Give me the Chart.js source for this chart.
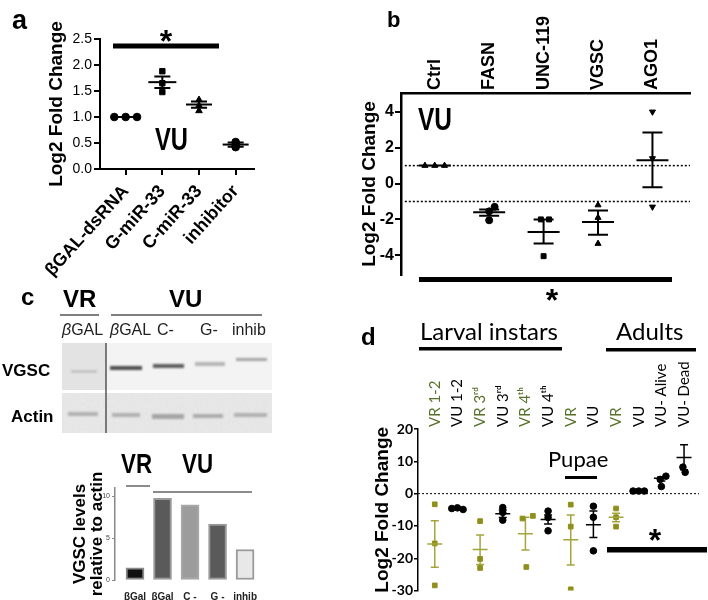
<!DOCTYPE html>
<html>
<head>
<meta charset="utf-8">
<script src="https://cdn.jsdelivr.net/npm/chart.js@4.4.1/dist/chart.umd.min.js"></script>
<style>
  body { margin: 0; background: #fff; }
  #page { position: relative; width: 708px; height: 600px; overflow: hidden; background: #fff; }
  canvas, svg { position: absolute; }
  svg text { font-family: "Liberation Sans", Arial, sans-serif; }
</style>
</head>
<body>
<div id="page">
  <canvas id="chartA" width="270" height="300" style="left:0;top:0"></canvas>
  <canvas id="chartB" width="378" height="300" style="left:330px;top:0"></canvas>
  <canvas id="chartC" width="270" height="160" style="left:60px;top:440px"></canvas>
  <canvas id="chartD" width="368" height="310" style="left:340px;top:290px"></canvas>
  <svg id="overlay" width="708" height="600" style="left:0;top:0">
    <defs>
      <filter id="soft" x="-20%" y="-200%" width="140%" height="500%"><feGaussianBlur stdDeviation="1.2"/></filter>
      <filter id="grain" x="0" y="0" width="1" height="1"><feTurbulence type="fractalNoise" baseFrequency="0.35" numOctaves="2" seed="4"/><feColorMatrix type="saturate" values="0"/><feComponentTransfer><feFuncA type="linear" slope="0.08"/></feComponentTransfer></filter>
    </defs>

    <!-- panel a -->
    <text x="12" y="29" font-size="27" font-weight="bold">a</text>
    <rect x="113" y="43.5" width="106" height="5" fill="#000"/>
    <text x="166" y="52" font-size="32" font-weight="bold" text-anchor="middle">*</text>
    <text x="155" y="150" font-size="31" font-weight="bold" textLength="33" lengthAdjust="spacingAndGlyphs">VU</text>

    <!-- panel b -->
    <text x="387" y="27" font-size="22" font-weight="bold">b</text>
    <text x="418" y="130" font-size="32" font-weight="bold" textLength="34" lengthAdjust="spacingAndGlyphs">VU</text>
    <rect x="419" y="277" width="253" height="5" fill="#000"/>
    <text x="552" y="311" font-size="32" font-weight="bold" text-anchor="middle">*</text>

    <!-- panel c : blot -->
    <text x="21" y="305" font-size="24" font-weight="bold">c</text>
    <text x="63" y="307" font-size="24" font-weight="bold">VR</text>
    <text x="169" y="307" font-size="24" font-weight="bold">VU</text>
    <line x1="60" y1="315" x2="99" y2="315" stroke="#555" stroke-width="1.5"/>
    <line x1="111" y1="315" x2="262" y2="315" stroke="#555" stroke-width="1.5"/>
    <g font-size="16" fill="#222">
      <text x="62" y="335"><tspan font-style="italic">β</tspan>GAL</text>
      <text x="110" y="335"><tspan font-style="italic">β</tspan>GAL</text>
      <text x="157" y="335">C-</text>
      <text x="200" y="335">G-</text>
      <text x="232" y="335">inhib</text>
    </g>
    <text x="2" y="376" font-size="17" font-weight="bold">VGSC</text>
    <text x="11" y="422" font-size="17" font-weight="bold">Actin</text>
    <rect x="62" y="343" width="44" height="47" fill="#e3e3e3"/>
    <rect x="106" y="343" width="166" height="47" fill="#f3f3f3"/>
    <rect x="62" y="393" width="210" height="40" fill="#e8e8e8"/>
    <rect x="62" y="393" width="210" height="40" filter="url(#grain)"/>
    <g filter="url(#soft)">
      <rect x="71" y="370" width="26" height="3" fill="#c4c4c4"/>
      <rect x="110" y="366" width="32" height="4" fill="#505050"/>
      <rect x="153" y="364" width="31" height="4" fill="#5c5c5c"/>
      <rect x="195" y="362" width="30" height="4" fill="#b6b6b6"/>
      <rect x="236" y="358" width="31" height="3" fill="#a4a4a4"/>
      <rect x="68" y="412" width="30" height="4" fill="#b0b0b0"/>
      <rect x="112" y="413" width="28" height="4" fill="#b0b0b0"/>
      <rect x="152" y="414" width="32" height="5" fill="#a4a4a4"/>
      <rect x="193" y="414" width="30" height="4" fill="#acacac"/>
      <rect x="234" y="413" width="33" height="4" fill="#b0b0b0"/>
    </g>
    <line x1="106" y1="343" x2="106" y2="433" stroke="#555" stroke-width="1.5"/>

    <!-- panel c : bar headers -->
    <text x="121" y="473" font-size="28" font-weight="bold" textLength="31" lengthAdjust="spacingAndGlyphs">VR</text>
    <text x="182" y="473" font-size="28" font-weight="bold" textLength="31" lengthAdjust="spacingAndGlyphs">VU</text>
    <line x1="126" y1="486" x2="150" y2="486" stroke="#666" stroke-width="1.5"/>
    <line x1="153" y1="492" x2="252" y2="492" stroke="#666" stroke-width="1.5"/>

    <!-- panel d -->
    <text x="361" y="345" font-size="24" font-weight="bold">d</text>
    <text x="420" y="340" font-size="24" style="font-family:Lato">Larval instars</text>
    <rect x="419" y="347" width="143" height="3.5" fill="#000"/>
    <text x="616" y="340" font-size="24" style="font-family:Lato">Adults</text>
    <rect x="606" y="348" width="90" height="3.5" fill="#000"/>
    <text x="548" y="467" font-size="22" style="font-family:Lato">Pupae</text>
    <rect x="565" y="476" width="32" height="3" fill="#000"/>
    <rect x="607" y="547" width="100" height="5.5" fill="#000"/>
    <text x="655" y="551" font-size="32" font-weight="bold" text-anchor="middle">*</text>
  </svg>
</div>
<script>
// ---- panel a : miR-33 levels ----
const aCategories = ['βGAL-dsRNA', 'G-miR-33', 'C-miR-33', 'inhibitor'];
const aPoints = [[1.0, 1.0, 1.0], [1.88, 1.65, 1.48], [1.33, 1.22, 1.12], [0.52, 0.47, 0.42]];
const aMeans = [1.0, 1.67, 1.24, 0.47];
const aErrLow = [1.0, 1.56, 1.18, 0.43];
const aErrHigh = [1.0, 1.78, 1.30, 0.51];
const aShapes = ['circle', 'rect', 'triangle', 'circle'];
const aJitter = [[-0.31, 0, 0.31], [0, 0, 0], [0, 0, 0], [0, 0, 0]];
const aTicksY = [0, 0.5, 1.0, 1.5, 2.0, 2.5];

// ---- panel b : target genes ----
const bCategories = ['Ctrl', 'FASN', 'UNC-119', 'VGSC', 'AGO1'];
const bPoints = [[1, 1, 1], [-1.3, -1.55, -2.05], [-2.0, -2.0, -4.05], [-1.2, -1.9, -3.35], [4.0, 1.4, -1.3]];
const bMeans = [1, -1.6, -2.7, -2.15, 1.3];
const bErrLow = [1, -1.8, -3.35, -2.85, -0.2];
const bErrHigh = [1, -1.45, -2.0, -1.5, 2.85];
const bShapes = ['triangle', 'circle', 'rect', 'triangle', 'triangle'];
const bRotation = [0, 0, 0, 0, 180];
const bJitter = [[-0.18, 0, 0.18], [0.1, 0, 0], [-0.05, 0.1, 0], [0, 0, 0], [0, 0, 0]];
const bRefLines = [1, -1];
const bTicksY = [-4, -2, 0, 2, 4];

// ---- panel c : densitometry ----
const cCategories = ['βGal', 'βGal', 'C -', 'G -', 'inhib'];
const cValues = [1.45, 9.75, 9.0, 6.7, 3.65];
const cFill = ['#111111', '#5a5a5a', '#9c9c9c', '#5a5a5a', '#e8e8e8'];
const cBorder = ['#8a8a8a', '#9a9a9a', '#a8a8a8', '#9a9a9a', '#9a9a9a'];
const cTicksY = [0, 5, 10];

// ---- panel d : developmental stages ----
const dCategories = ['VR 1-2', 'VU 1-2', 'VR 3ʳᵈ', 'VU 3ʳᵈ', 'VR 4ᵗʰ', 'VU 4ᵗʰ', 'VR', 'VU', 'VR', 'VU', 'VU- Alive', 'VU- Dead'];
const dGroups = ['VR', 'VU', 'VR', 'VU', 'VR', 'VU', 'VR', 'VU', 'VR', 'VU', 'VU', 'VU'];
const dPoints = [[-3.3, -15.4, -28.4], [-4.6, -4.4, -4.9], [-8.5, -20.2, -23.0], [-4.3, -5.8, -8.2],
  [-7.7, -6.9, -22.7], [-5.4, -7.4, -11.5], [-3.4, -10.2, -29.6], [-3.9, -7.3, -17.7],
  [-4.6, -7.3, -10.2], [0.8, 0.8, 0.8], [5.4, 4.4, 2.2], [8.2, 6.6]];
const dMeans = [-15.6, -4.7, -17.3, -6.2, -12.4, -8.0, -14.3, -9.6, -7.3, 0.8, 4.8, 11.2];
const dErrLow = [-22.8, -4.8, -21.9, -7.4, -17.4, -9.4, -22.1, -13.6, -8.7, 0.8, 3.9, 7.4];
const dErrHigh = [-8.4, -4.6, -12.8, -5.1, -7.3, -6.6, -6.6, -5.4, -6.1, 0.8, 5.2, 15.1];
const dJitter = [[0, 0, 0], [-0.25, 0, 0.25], [0, 0, 0], [0, 0, 0], [-0.13, 0.33, 0.04], [0, 0, 0],
  [0, 0, 0], [0, 0, 0], [0, 0, 0], [-0.25, 0, 0.25], [0.2, -0.05, 0], [-0.05, 0.05]];
const dTicksY = [20, 15, 10, 5, 0, -5, -10, -15, -20, -25, -30];

const VR_LABEL = '#56722a';
const VR_MARK = '#8f8f1c';
const VR_LINE = '#a5a53c';

Chart.defaults.font.family = '"Liberation Sans", Arial, sans-serif';
Chart.defaults.color = '#000';

// whiskers drawn through the chart's own scales
const whiskers = {
  id: 'whiskers',
  beforeDatasetsDraw(chart, args, opts) {
    const {ctx, scales} = chart;
    const x = scales.x, y = scales.y;
    ctx.save();
    ctx.lineWidth = opts.width;
    opts.lo.forEach((lo, i) => {
      const hi = opts.hi[i];
      if (lo === hi) return;
      const px = x.getPixelForValue(i);
      const yl = y.getPixelForValue(lo);
      const yh = y.getPixelForValue(hi);
      ctx.strokeStyle = Array.isArray(opts.color) ? opts.color[i] : opts.color;
      ctx.beginPath();
      ctx.moveTo(px, yl); ctx.lineTo(px, yh);
      ctx.moveTo(px - opts.cap, yl); ctx.lineTo(px + opts.cap, yl);
      ctx.moveTo(px - opts.cap, yh); ctx.lineTo(px + opts.cap, yh);
      ctx.stroke();
    });
    ctx.restore();
  }
};

function flatPoints(points, jitter) {
  const out = [];
  points.forEach((group, i) => group.forEach((v, j) => out.push({x: i + jitter[i][j], y: v})));
  return out;
}
function perPoint(points, values) {
  const out = [];
  points.forEach((group, i) => group.forEach(() => out.push(values[i])));
  return out;
}
function meanData(means) {
  return means.map((m, i) => ({x: i, y: m}));
}
function fixedTicks(values) {
  return s => { s.ticks = values.map(v => ({value: v})); };
}
function indexTicks(cats) {
  return fixedTicks(cats.map((_, i) => i));
}

const base = {
  responsive: false,
  animation: false,
  events: [],
  plugins: {legend: {display: false}, tooltip: {enabled: false}}
};

// ---------- chart a ----------
new Chart(document.getElementById('chartA'), {
  type: 'scatter',
  data: {
    datasets: [
      {data: meanData(aMeans), pointStyle: 'line', pointRadius: [12, 14, 13, 13], borderColor: '#000', borderWidth: 2},
      {data: flatPoints(aPoints, aJitter), pointStyle: perPoint(aPoints, aShapes), pointRadius: 3.8,
        backgroundColor: '#000', borderColor: '#000'}
    ]
  },
  options: {
    ...base,
    layout: {padding: {left: 45, top: 39, right: 8, bottom: 0}},
    plugins: {...base.plugins, whiskers: {lo: aErrLow, hi: aErrHigh, cap: 8, width: 2, color: '#000'}},
    scales: {
      x: {
        type: 'linear', min: -0.7, max: 3.5, bounds: 'data',
        afterBuildTicks: indexTicks(aCategories),
        afterFit: s => { s.height = 131; },
        border: {color: '#000', width: 2},
        grid: {drawOnChartArea: false, color: '#000', lineWidth: 2, tickLength: 6},
        ticks: {autoSkip: false, minRotation: 48, maxRotation: 48, padding: 6,
          font: {size: 18, weight: 'bold'}, callback: v => aCategories[v] ?? ''}
      },
      y: {
        min: 0, max: 2.5, bounds: 'data',
        afterBuildTicks: fixedTicks(aTicksY),
        afterFit: s => { s.width = 55; },
        border: {color: '#000', width: 2},
        grid: {drawOnChartArea: false, color: '#000', lineWidth: 2, tickLength: 6},
        ticks: {padding: 2, font: {size: 14}, callback: v => v.toFixed(1)},
        title: {display: true, text: 'Log2 Fold Change', font: {size: 19, weight: 'bold'}, padding: 0}
      }
    }
  },
  plugins: [whiskers]
});

// ---------- chart b ----------
new Chart(document.getElementById('chartB'), {
  type: 'scatter',
  data: {
    datasets: [
      ...bRefLines.map(v => ({type: 'line', data: [{x: -0.55, y: v}, {x: 4.69, y: v}], borderColor: '#000',
        borderWidth: 1.5, borderDash: [2, 2], pointRadius: 0})),
      {data: meanData(bMeans), pointStyle: 'line', pointRadius: 16, borderColor: '#000', borderWidth: 2},
      {data: flatPoints(bPoints, bJitter), pointStyle: perPoint(bPoints, bShapes), rotation: perPoint(bPoints, bRotation),
        pointRadius: 3.5, backgroundColor: '#000', borderColor: '#000'}
    ]
  },
  options: {
    ...base,
    layout: {padding: {left: 28, top: 0, right: 15, bottom: 25}},
    plugins: {...base.plugins, whiskers: {lo: bErrLow, hi: bErrHigh, cap: 10, width: 2, color: '#000'}},
    scales: {
      x: {
        type: 'linear', position: 'top', min: -0.62, max: 4.69, bounds: 'data',
        afterBuildTicks: indexTicks(bCategories),
        afterFit: s => { s.height = 93; },
        border: {color: '#000', width: 2.5},
        grid: {display: false, drawTicks: false},
        ticks: {autoSkip: false, minRotation: 90, maxRotation: 90, padding: 3, labelOffset: 21.6,
          font: {size: 18, weight: 'bold'}, callback: v => bCategories[v] ?? ''}
      },
      y: {
        min: -5.1, max: 5.05, bounds: 'data',
        afterBuildTicks: fixedTicks(bTicksY),
        afterFit: s => { s.width = 43; },
        border: {color: '#000', width: 2.5},
        grid: {drawOnChartArea: false, color: '#000', lineWidth: 2, tickLength: 6},
        ticks: {padding: 1, font: {size: 16, weight: 'bold'}},
        title: {display: true, text: 'Log2 Fold Change', font: {size: 19, weight: 'bold'}, padding: 0}
      }
    }
  },
  plugins: [whiskers]
});

// ---------- chart c ----------
new Chart(document.getElementById('chartC'), {
  type: 'bar',
  data: {
    datasets: [{
      data: cValues.map((v, i) => ({x: i, y: v})),
      backgroundColor: cFill, borderColor: cBorder, borderWidth: 2, barThickness: 18, borderSkipped: false
    }]
  },
  options: {
    ...base,
    layout: {padding: {left: 12, top: 48, right: 72, bottom: 0}},
    scales: {
      x: {
        type: 'linear', offset: false, min: -0.727, max: 4.47, bounds: 'data',
        afterBuildTicks: indexTicks(cCategories),
        afterFit: s => { s.height = 20; },
        border: {display: false},
        grid: {display: false, offset: false},
        ticks: {autoSkip: false, maxRotation: 0, padding: 3, color: '#222',
          font: {size: 10, weight: 'bold'}, callback: v => cCategories[v] ?? ''}
      },
      y: {
        min: 0, max: 11, bounds: 'data',
        afterBuildTicks: fixedTicks(cTicksY),
        afterFit: s => { s.width = 43; },
        border: {color: '#888', width: 1.5},
        grid: {drawOnChartArea: false, color: '#888', lineWidth: 1, tickLength: 3},
        ticks: {padding: 2, color: '#444', font: {size: 7}},
        title: {display: true, text: ['VGSC levels', 'relative to actin'], font: {size: 17, weight: 'bold', lineHeight: 1.0}, padding: 0}
      }
    }
  }
});

// ---------- chart d ----------
new Chart(document.getElementById('chartD'), {
  type: 'scatter',
  data: {
    datasets: [
      {type: 'line', data: [{x: -0.74, y: 0}, {x: 11.66, y: 0}], borderColor: '#000', borderWidth: 1,
        borderDash: [2, 2], pointRadius: 0},
      {data: meanData(dMeans), pointStyle: 'line', pointRadius: 7.5, borderWidth: 1.5,
        borderColor: dGroups.map(g => g === 'VR' ? VR_LINE : '#000')},
      {data: flatPoints(dPoints, dJitter),
        pointStyle: perPoint(dPoints, dGroups.map(g => g === 'VR' ? 'rect' : 'circle')),
        pointRadius: 3.3,
        backgroundColor: perPoint(dPoints, dGroups.map(g => g === 'VR' ? VR_MARK : '#000')),
        borderColor: perPoint(dPoints, dGroups.map(g => g === 'VR' ? VR_MARK : '#000'))}
    ]
  },
  options: {
    ...base,
    layout: {padding: {left: 31, top: 0, right: 6, bottom: 6}},
    plugins: {...base.plugins, whiskers: {lo: dErrLow, hi: dErrHigh, cap: 4, width: 1.5,
      color: dGroups.map(g => g === 'VR' ? VR_LINE : '#000')}},
    scales: {
      x: {
        type: 'linear', position: 'top', min: -0.74, max: 11.66, bounds: 'data',
        afterBuildTicks: indexTicks(dCategories),
        afterFit: s => { s.height = 139; },
        border: {display: false},
        grid: {display: false, drawTicks: false},
        ticks: {autoSkip: false, minRotation: 90, maxRotation: 90, padding: 2, labelOffset: 18,
          font: {family: 'Lato', size: 15},
          color: c => dGroups[c.tick.value] === 'VR' ? VR_LABEL : '#000',
          callback: v => dCategories[v] ?? ''}
      },
      y: {
        min: -30, max: 20, bounds: 'data',
        afterBuildTicks: fixedTicks(dTicksY),
        afterFit: s => { s.width = 47; },
        border: {color: '#000', width: 1.5},
        grid: {drawOnChartArea: false, color: '#000', lineWidth: 1.5, tickLength: 4},
        ticks: {padding: 1, font: {family: 'Lato', size: 14, weight: 'bold'}},
        title: {display: true, text: 'Log2 Fold Change', font: {size: 19, weight: 'bold'}, padding: 0}
      }
    }
  },
  plugins: [whiskers]
});
</script>
</body>
</html>
